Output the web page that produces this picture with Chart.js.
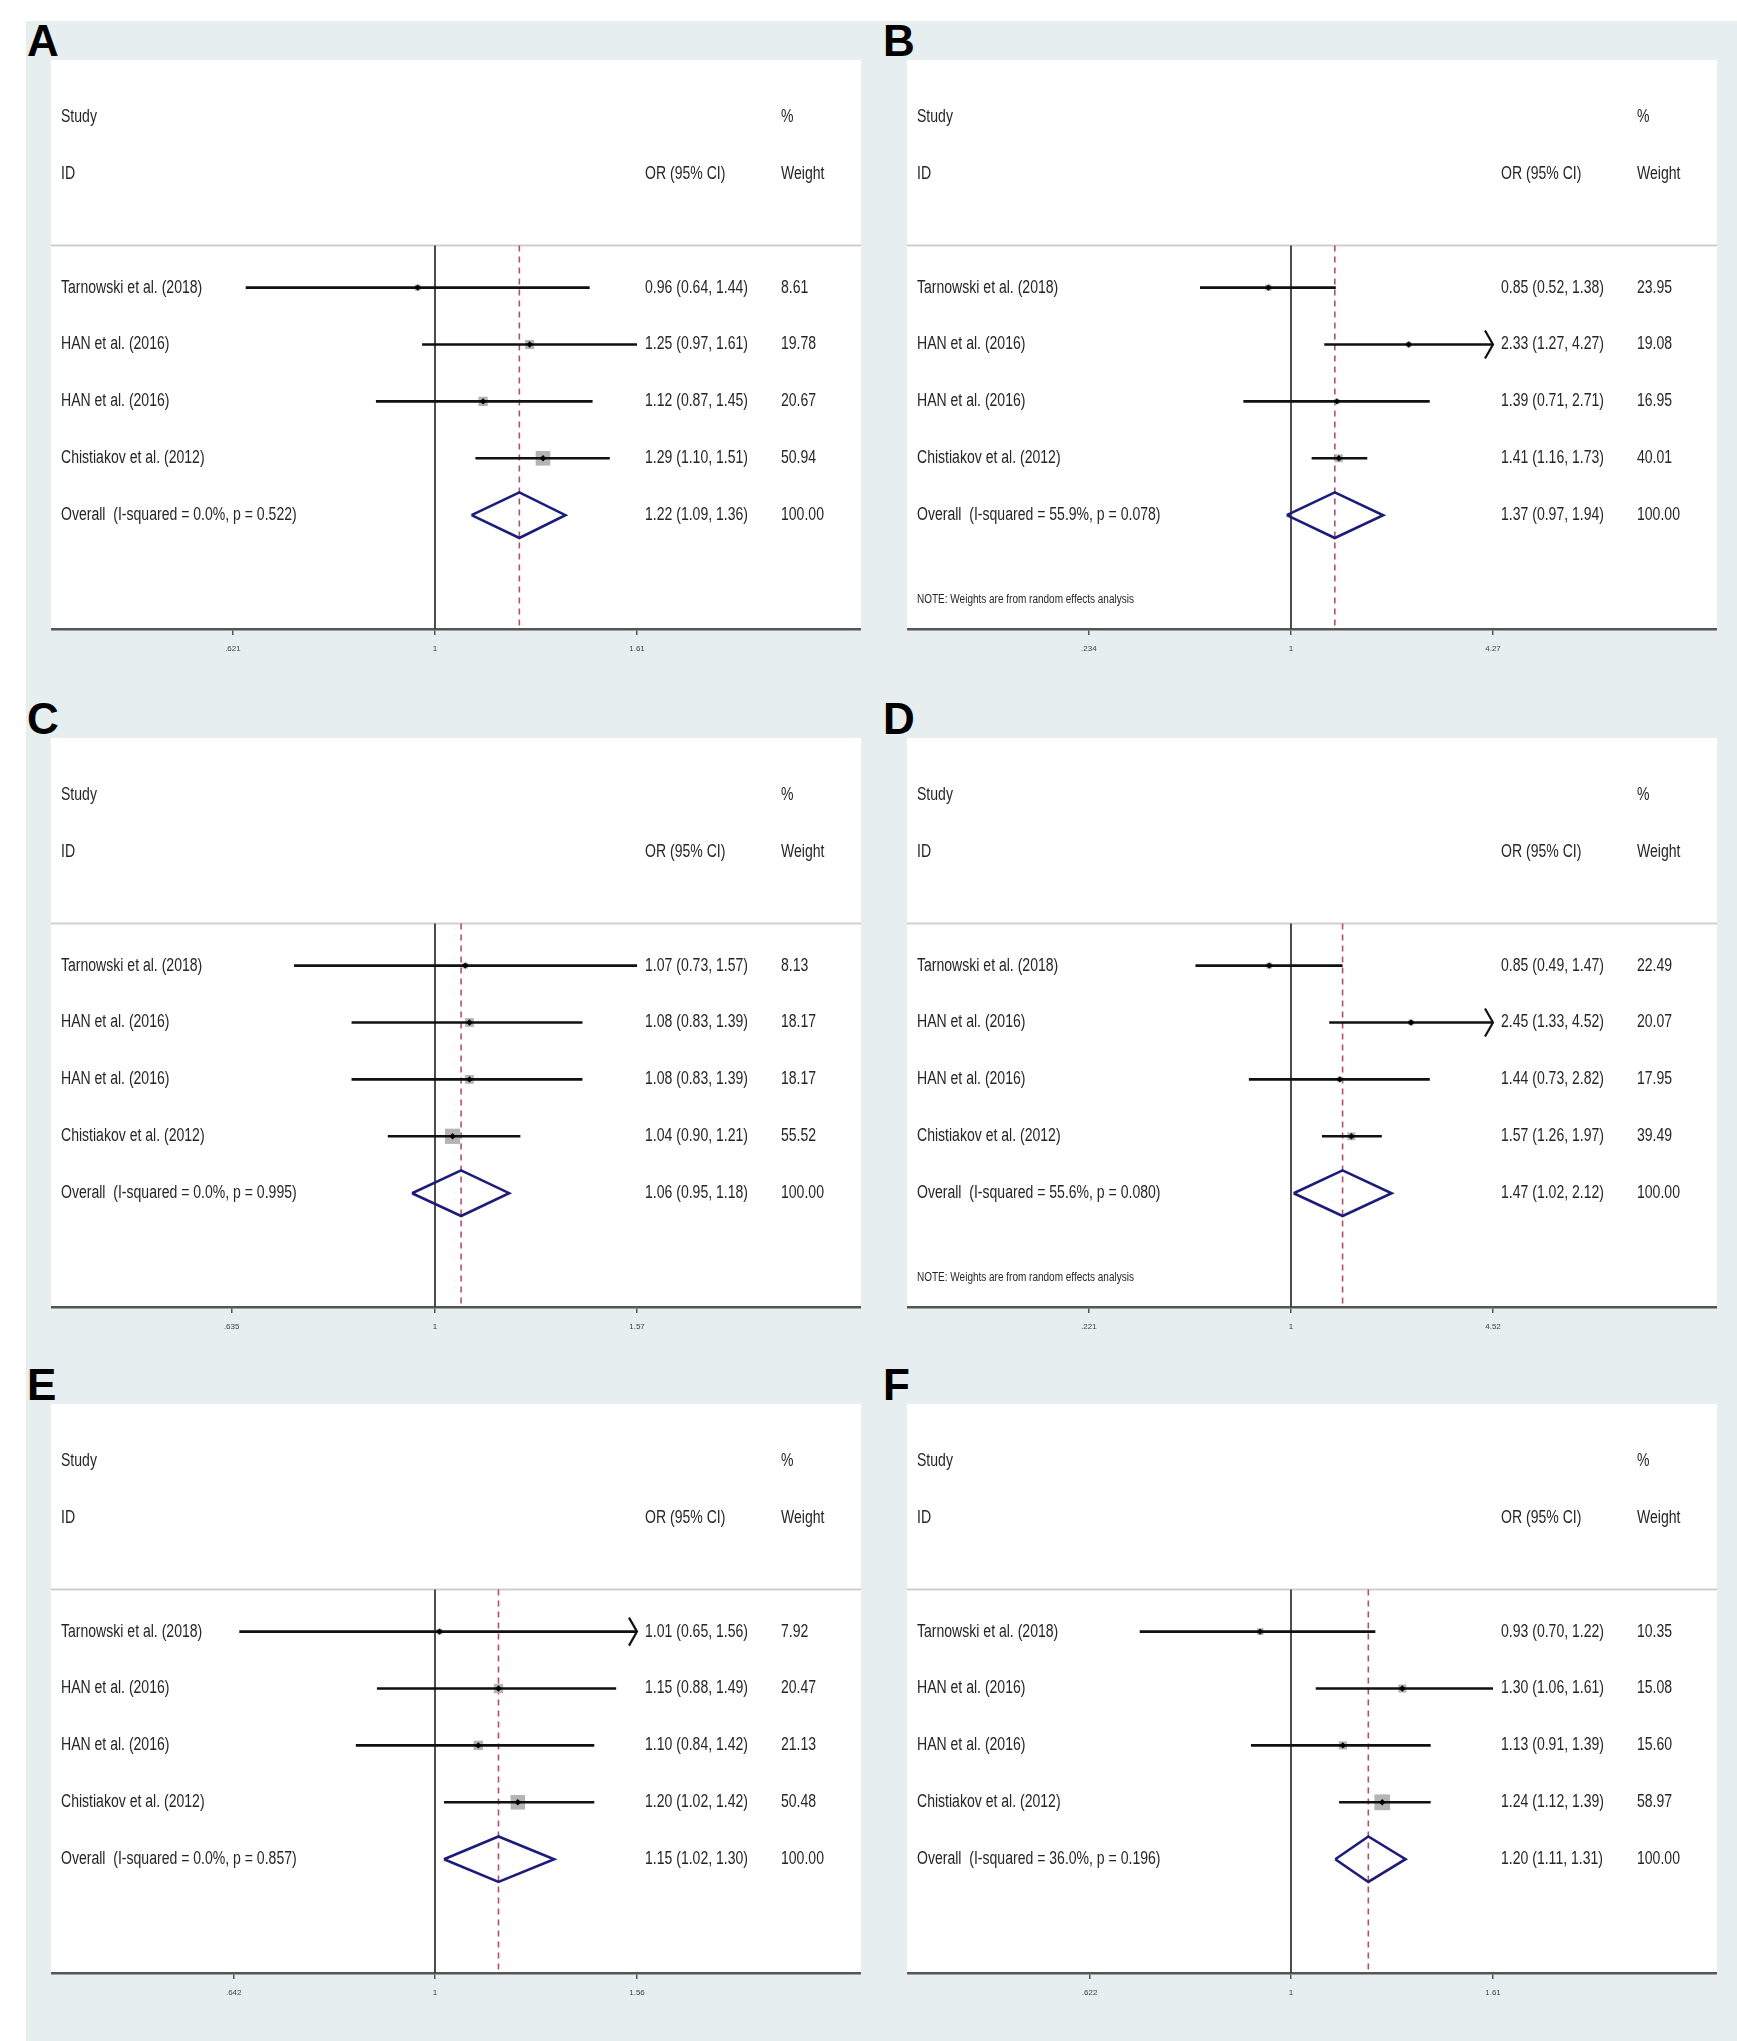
<!DOCTYPE html>
<html>
<head>
<meta charset="utf-8">
<script src="https://cdn.jsdelivr.net/npm/chart.js@4.4.1/dist/chart.umd.min.js"></script>
<style>
  html, body { margin: 0; padding: 0; background: #ffffff; }
  body { width: 1737px; height: 2041px; position: relative; overflow: hidden; }
  #bg { position: absolute; left: 26px; top: 21px; right: 0; bottom: 0; background: #e7eef0; }
  canvas { position: absolute; }
  .tag { position: absolute; font: bold 44px 'Liberation Sans', Arial, sans-serif; line-height: 44px; color: #000; }
</style>
</head>
<body>
<div id="bg"></div>
<div class="tag" style="left:27px;top:19px">A</div>
<div class="tag" style="left:883px;top:19px">B</div>
<div class="tag" style="left:27px;top:697px">C</div>
<div class="tag" style="left:883px;top:697px">D</div>
<div class="tag" style="left:27px;top:1363px">E</div>
<div class="tag" style="left:883px;top:1363px">F</div>
<canvas id="chartA" width="810" height="610" style="left:51px;top:60px"></canvas>
<canvas id="chartB" width="810" height="610" style="left:907px;top:60px"></canvas>
<canvas id="chartC" width="810" height="610" style="left:51px;top:738px"></canvas>
<canvas id="chartD" width="810" height="610" style="left:907px;top:738px"></canvas>
<canvas id="chartE" width="810" height="610" style="left:51px;top:1404px"></canvas>
<canvas id="chartF" width="810" height="610" style="left:907px;top:1404px"></canvas>
<script>
const studies = ['Tarnowski et al. (2018)', 'HAN et al. (2016)', 'HAN et al. (2016)', 'Chistiakov et al. (2012)']

// A
const orA = [0.96, 1.25, 1.12, 1.29]
const loA = [0.64, 0.97, 0.87, 1.10]
const hiA = [1.44, 1.61, 1.45, 1.51]
const wtA = [8.61, 19.78, 20.67, 50.94]
const overallA = [1.22, 1.09, 1.36]
const hetA = ['0.0%', '0.522']
const ticksA = ['.621', '1', '1.61']
const arrowsA = []

// B
const orB = [0.85, 2.33, 1.39, 1.41]
const loB = [0.52, 1.27, 0.71, 1.16]
const hiB = [1.38, 4.27, 2.71, 1.73]
const wtB = [23.95, 19.08, 16.95, 40.01]
const overallB = [1.37, 0.97, 1.94]
const hetB = ['55.9%', '0.078']
const ticksB = ['.234', '1', '4.27']
const arrowsB = [1]

// C
const orC = [1.07, 1.08, 1.08, 1.04]
const loC = [0.73, 0.83, 0.83, 0.90]
const hiC = [1.57, 1.39, 1.39, 1.21]
const wtC = [8.13, 18.17, 18.17, 55.52]
const overallC = [1.06, 0.95, 1.18]
const hetC = ['0.0%', '0.995']
const ticksC = ['.635', '1', '1.57']
const arrowsC = []

// D
const orD = [0.85, 2.45, 1.44, 1.57]
const loD = [0.49, 1.33, 0.73, 1.26]
const hiD = [1.47, 4.52, 2.82, 1.97]
const wtD = [22.49, 20.07, 17.95, 39.49]
const overallD = [1.47, 1.02, 2.12]
const hetD = ['55.6%', '0.080']
const ticksD = ['.221', '1', '4.52']
const arrowsD = [1]

// E
const orE = [1.01, 1.15, 1.10, 1.20]
const loE = [0.65, 0.88, 0.84, 1.02]
const hiE = [1.56, 1.49, 1.42, 1.42]
const wtE = [7.92, 20.47, 21.13, 50.48]
const overallE = [1.15, 1.02, 1.30]
const hetE = ['0.0%', '0.857']
const ticksE = ['.642', '1', '1.56']
const arrowsE = [0]

// F
const orF = [0.93, 1.30, 1.13, 1.24]
const loF = [0.70, 1.06, 0.91, 1.12]
const hiF = [1.22, 1.61, 1.39, 1.39]
const wtF = [10.35, 15.08, 15.60, 58.97]
const overallF = [1.20, 1.11, 1.31]
const hetF = ['36.0%', '0.196']
const ticksF = ['.622', '1', '1.61']
const arrowsF = []

const FONT = "'Liberation Sans', Arial, sans-serif"
const TEXT = '#262626'
const SEP_Y = 3.26
const FIRST_ROW = 4

function drawText(ctx, txt, x, y, size, squeeze) {
    ctx.save()
    ctx.font = `${size}px ${FONT}`
    ctx.fillStyle = TEXT
    ctx.textBaseline = 'middle'
    ctx.textAlign = 'left'
    ctx.translate(x, y)
    ctx.scale(squeeze, 1)
    ctx.fillText(txt, 0, 0)
    ctx.restore()
}

function ci(o, l, h) {
    return `${o.toFixed(2)} (${l.toFixed(2)}, ${h.toFixed(2)})`
}

function makeForest(id, or, lo, hi, wt, overall, het, tickLabels, arrows, random) {
    const tickVals = tickLabels.map(Number)
    const top = tickVals[2]
    // panel is 810 wide, null line 384 px from left, 202 px to the upper tick
    const pxPerLn = 202 / Math.log(top)
    const xmin = Math.exp(-384 / pxPerLn)
    const xmax = Math.exp((810 - 384) / pxPerLn)
    const boxScale = random ? 1.25 : 2.05

    const datasets = []
    datasets.push({
        data: [{x: xmin, y: SEP_Y}, {x: xmax, y: SEP_Y}],
        showLine: true, pointRadius: 0, borderColor: '#cfcfcf', borderWidth: 2, order: 10
    })
    datasets.push({
        data: [{x: 1, y: SEP_Y}, {x: 1, y: 10}],
        showLine: true, pointRadius: 0, borderColor: '#3a3a3a', borderWidth: 1.8, order: 9
    })
    datasets.push({
        data: [{x: overall[0], y: SEP_Y}, {x: overall[0], y: 10}],
        showLine: true, pointRadius: 0, borderColor: '#b4506a', borderWidth: 1.6,
        borderDash: [6, 5], order: 8
    })
    datasets.push({
        data: or.map((v, i) => ({x: v, y: FIRST_ROW + i})),
        pointStyle: 'rect',
        pointRadius: wt.map(w => boxScale * Math.sqrt(w) / Math.SQRT2),
        backgroundColor: '#b4b4b4', borderWidth: 0, order: 6
    })
    or.forEach((v, i) => {
        datasets.push({
            data: [{x: lo[i], y: FIRST_ROW + i}, {x: hi[i], y: FIRST_ROW + i}],
            showLine: true, pointRadius: 0, borderColor: '#111111', borderWidth: 2.6, order: 4
        })
    })
    datasets.push({
        data: or.map((v, i) => ({x: v, y: FIRST_ROW + i})),
        pointStyle: 'rectRot', pointRadius: 3.2,
        backgroundColor: '#000000', borderWidth: 0, order: 1
    })
    const oy = FIRST_ROW + or.length
    datasets.push({
        data: [
            {x: overall[1], y: oy}, {x: overall[0], y: oy - 0.4},
            {x: overall[2], y: oy}, {x: overall[0], y: oy + 0.4},
            {x: overall[1], y: oy}
        ],
        showLine: true, pointRadius: 0, borderColor: '#1c1c7a', borderWidth: 2.6, fill: false, order: 2
    })

    const paper = {
        id: 'paper',
        beforeDraw(chart) {
            const a = chart.chartArea
            const c = chart.ctx
            c.save()
            c.fillStyle = '#ffffff'
            c.fillRect(a.left, 0, a.right - a.left, a.bottom)
            c.restore()
        }
    }

    const labels = {
        id: 'labels',
        afterDraw(chart) {
            const a = chart.chartArea
            const c = chart.ctx
            const ys = chart.scales.y
            const xs = chart.scales.x
            const w = a.right - a.left
            const col1 = a.left + w * 10 / 810
            const col2 = a.left + w * 594 / 810
            const col3 = a.left + w * 730 / 810
            const sq = 0.78

            drawText(c, 'Study', col1, ys.getPixelForValue(1), 18, sq)
            drawText(c, '%', col3, ys.getPixelForValue(1), 18, sq)
            drawText(c, 'ID', col1, ys.getPixelForValue(2), 18, sq)
            drawText(c, 'OR (95% CI)', col2, ys.getPixelForValue(2), 18, sq)
            drawText(c, 'Weight', col3, ys.getPixelForValue(2), 18, sq)

            studies.forEach((s, i) => {
                const y = ys.getPixelForValue(FIRST_ROW + i)
                drawText(c, s, col1, y, 18, sq)
                drawText(c, ci(or[i], lo[i], hi[i]), col2, y, 18, sq)
                drawText(c, wt[i].toFixed(2), col3, y, 18, sq)
            })
            const y8 = ys.getPixelForValue(oy)
            drawText(c, `Overall  (I-squared = ${het[0]}, p = ${het[1]})`, col1, y8, 18, sq)
            drawText(c, ci(overall[0], overall[1], overall[2]), col2, y8, 18, sq)
            drawText(c, '100.00', col3, y8, 18, sq)
            if (random) {
                drawText(c, 'NOTE: Weights are from random effects analysis', col1, ys.getPixelForValue(9.49), 12.5, 0.8)
            }

            // arrow heads where the interval runs past the axis range
            c.save()
            c.strokeStyle = '#111111'
            c.lineWidth = 2.2
            arrows.forEach(i => {
                const px = xs.getPixelForValue(hi[i])
                const py = ys.getPixelForValue(FIRST_ROW + i)
                c.beginPath()
                c.moveTo(px - 8, py - 14)
                c.lineTo(px, py)
                c.lineTo(px - 8, py + 14)
                c.stroke()
            })
            c.restore()
        }
    }

    new Chart(document.getElementById(id).getContext('2d'), {
        type: 'scatter',
        data: {datasets: datasets},
        plugins: [paper, labels],
        options: {
            responsive: false,
            animation: false,
            events: [],
            layout: {padding: 0, autoPadding: false},
            plugins: {legend: {display: false}, tooltip: {enabled: false}},
            scales: {
                x: {
                    type: 'logarithmic',
                    min: xmin,
                    max: xmax,
                    afterBuildTicks: scale => {
                        scale.ticks = tickVals.map(v => ({value: v}))
                    },
                    afterFit: scale => {
                        scale.height = 41
                        scale.paddingLeft = 0
                        scale.paddingRight = 0
                    },
                    ticks: {
                        autoSkip: false,
                        maxRotation: 0,
                        padding: 9,
                        color: '#444444',
                        font: {size: 8, family: FONT},
                        callback: (v, i) => tickLabels[i]
                    },
                    grid: {
                        drawOnChartArea: false,
                        drawTicks: true,
                        tickLength: 6,
                        color: '#555555',
                        lineWidth: 1.5
                    },
                    border: {display: true, color: '#555555', width: 2.5}
                },
                y: {type: 'linear', display: false, min: 0, max: 10, reverse: true}
            }
        }
    })
}

makeForest('chartA', orA, loA, hiA, wtA, overallA, hetA, ticksA, arrowsA, false)
makeForest('chartB', orB, loB, hiB, wtB, overallB, hetB, ticksB, arrowsB, true)
makeForest('chartC', orC, loC, hiC, wtC, overallC, hetC, ticksC, arrowsC, false)
makeForest('chartD', orD, loD, hiD, wtD, overallD, hetD, ticksD, arrowsD, true)
makeForest('chartE', orE, loE, hiE, wtE, overallE, hetE, ticksE, arrowsE, false)
makeForest('chartF', orF, loF, hiF, wtF, overallF, hetF, ticksF, arrowsF, false)
</script>
</body>
</html>
